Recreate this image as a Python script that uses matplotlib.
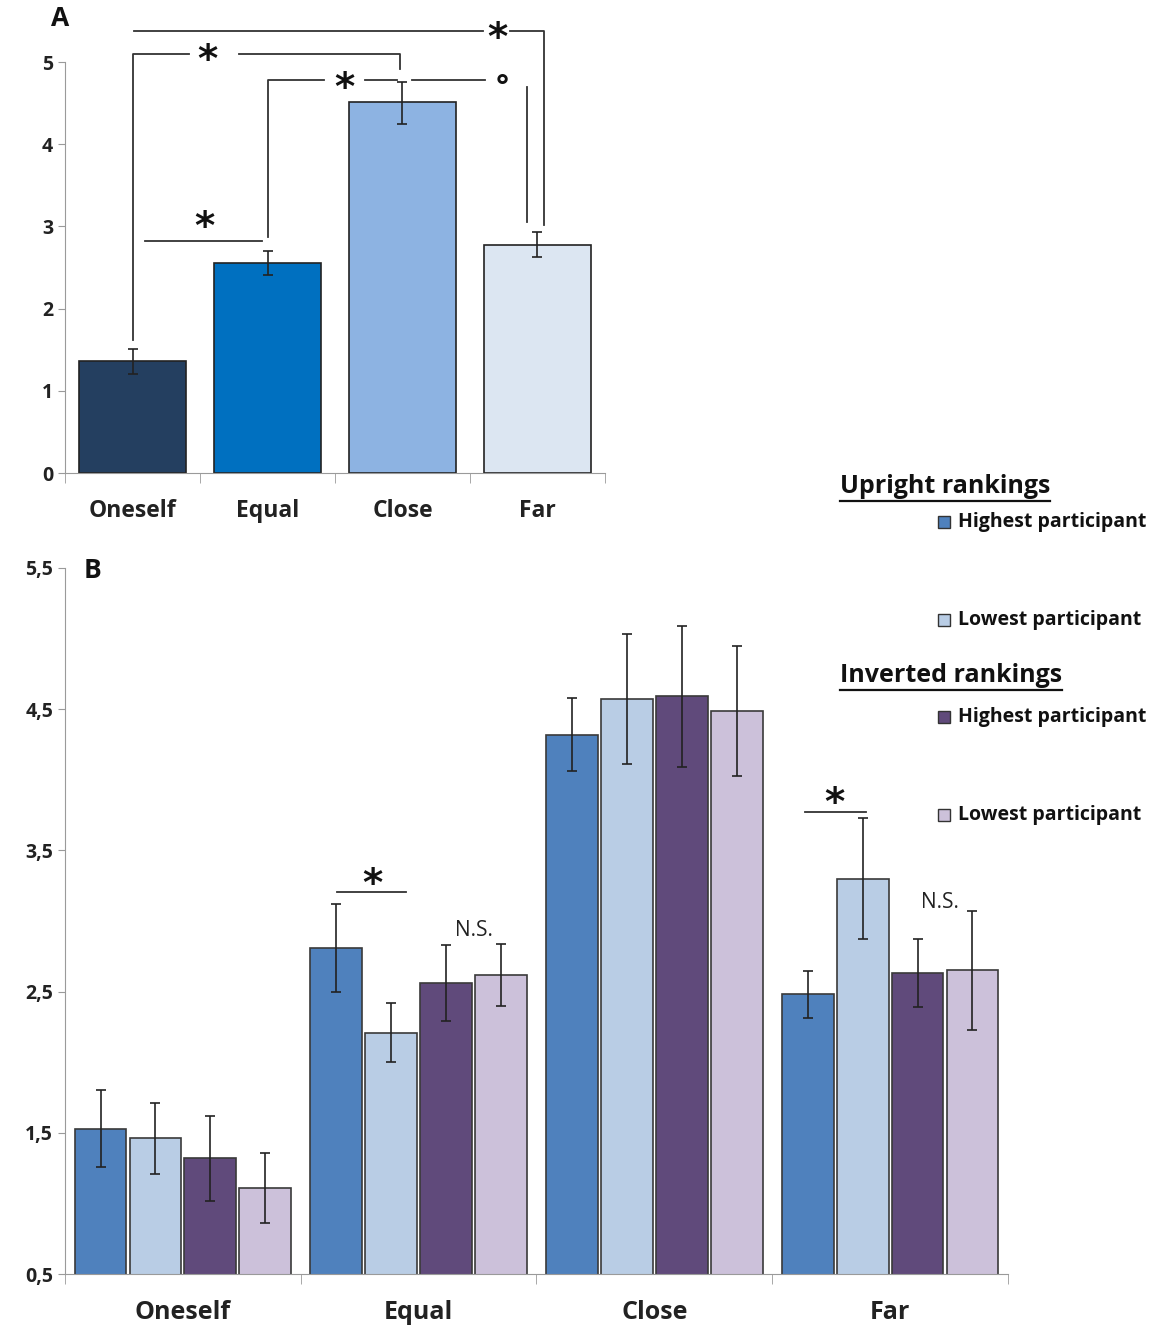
import numpy as np
import matplotlib.pyplot as plt
from matplotlib.patches import Rectangle

plt.rcParams['font.family'] = ['Open Sans', 'DejaVu Sans']

# Panel A data
cats = ['Oneself', 'Equal', 'Close', 'Far']
a_means = [1.36, 2.56, 4.51, 2.78]
a_err_lo = [0.15, 0.145, 0.26, 0.155]
a_err_hi = [0.15, 0.145, 0.25, 0.155]
a_colors = ['#243F60', '#0070C0', '#8DB3E2', '#DCE6F2']

# Panel B data (upright high, upright low, inverted high, inverted low)
series = ['Highest participant', 'Lowest participant', 'Highest participant', 'Lowest participant']
b_means = [
    [1.53, 2.81, 4.32, 2.48],
    [1.46, 2.21, 4.57, 3.30],
    [1.32, 2.56, 4.59, 2.63],
    [1.11, 2.62, 4.49, 2.65],
]
b_err = [
    [0.27, 0.31, 0.26, 0.165],
    [0.25, 0.21, 0.46, 0.43],
    [0.30, 0.27, 0.50, 0.24],
    [0.25, 0.22, 0.46, 0.42],
]
b_colors = ['#4F81BD', '#B9CDE5', '#604A7B', '#CCC1DA']

fig = plt.figure(figsize=(11.53, 13.31), dpi=100)
grey = '#9A9A9A'

def style_axes(ax):
    for s in ['top', 'right']:
        ax.spines[s].set_visible(False)
    ax.spines['left'].set_color(grey)
    ax.spines['bottom'].set_color(grey)
    ax.tick_params(axis='y', colors=grey, length=5, labelcolor='#222222', labelsize=14)
    for lab in ax.get_yticklabels():
        lab.set_fontweight('bold')

# ---------- Panel A ----------
axA = fig.add_axes([0.0564, 0.6446, 0.4683, 0.3088])
x = np.arange(len(cats))
axA.bar(x, a_means, width=0.79, color=a_colors, edgecolor='#222222', linewidth=1.2)
axA.errorbar(x, a_means, yerr=[a_err_lo, a_err_hi], fmt='none', ecolor='#222222',
             elinewidth=1.2, capsize=3.5, capthick=1.2)
axA.set_xlim(-0.5, 3.5)
axA.set_ylim(0, 5)
axA.set_yticks([0, 1, 2, 3, 4, 5])
style_axes(axA)
axA.set_xticks(x)
axA.set_xticklabels(cats, fontsize=16.5, fontweight='bold', color='#222222')
axA.tick_params(axis='x', length=0, pad=19)
axA.set_xticks([-0.5, 0.5, 1.5, 2.5, 3.5], minor=True)
axA.tick_params(axis='x', which='minor', length=7, color=grey)

lk = dict(color='#333333', lw=1.3, clip_on=False)
sk = dict(ha='center', va='center', fontsize=28, fontweight='bold', color='#111111',
          family='DejaVu Sans')
# Oneself - Far
axA.plot([0.01, 2.60], [5.38, 5.38], **lk)
axA.plot([2.80, 3.05, 3.05], [5.38, 5.38, 3.02], **lk)
axA.text(2.70, 5.28, '*', **sk)
# Oneself - Close
axA.plot([0, 0, 0.42], [1.62, 5.10, 5.10], **lk)
axA.plot([0.79, 1.98, 1.98], [5.10, 5.10, 4.92], **lk)
axA.text(0.555, 5.01, '*', **sk)
# Equal - Close
axA.plot([1.0, 1.0, 1.42], [2.87, 4.785, 4.785], **lk)
axA.plot([1.72, 1.96], [4.785, 4.785], **lk)
axA.text(1.57, 4.67, '*', **sk)
# Close - Far
axA.plot([2.07, 2.61], [4.785, 4.785], **lk)
axA.plot([2.92, 2.92], [4.70, 3.05], **lk)
axA.text(2.74, 4.69, '°', ha='center', va='center', fontsize=22, fontweight='bold', color='#111111')
# Oneself - Equal
axA.plot([0.09, 0.96], [2.82, 2.82], **lk)
axA.text(0.53, 2.975, '*', **sk)

fig.text(60 / 1153, 1 - 19 / 1331, 'A', fontsize=19, fontweight='bold', ha='center', va='center',
         color='#111111')

# ---------- Panel B ----------
axB = fig.add_axes([0.0564, 0.0428, 0.8178, 0.5305])
pitch = 0.233
offs = (np.arange(4) - 1.5) * pitch
for i in range(4):
    axB.bar(x + offs[i], b_means[i], width=0.22, bottom=0, color=b_colors[i],
            edgecolor='#3A3A3A', linewidth=1.2)
    axB.errorbar(x + offs[i], b_means[i], yerr=b_err[i], fmt='none', ecolor='#222222',
                 elinewidth=1.2, capsize=3.5, capthick=1.2)
axB.set_xlim(-0.5, 3.5)
axB.set_ylim(0.5, 5.5)
axB.set_yticks([0.5, 1.5, 2.5, 3.5, 4.5, 5.5])
axB.set_yticklabels(['0,5', '1,5', '2,5', '3,5', '4,5', '5,5'])
style_axes(axB)
axB.set_xticks(x)
axB.set_xticklabels(cats, fontsize=18, fontweight='bold', color='#222222')
axB.tick_params(axis='x', length=0, pad=19)
axB.set_xticks([-0.5, 0.5, 1.5, 2.5, 3.5], minor=True)
axB.tick_params(axis='x', which='minor', length=7, color=grey)

# significance in B
axB.plot([1 + offs[0] + 0.005, 1 + offs[1] + 0.065], [3.205, 3.205], **lk)
axB.text(1 + (offs[0] + offs[1]) / 2 + 0.035, 3.255, '*', **sk)
axB.text(1 + offs[2] + 0.12, 2.93, 'N.S.', ha='center', va='center', fontsize=15, color='#222222')
axB.plot([3 + offs[0] - 0.01, 3 + offs[1] + 0.015], [3.77, 3.77], **lk)
axB.text(3 + (offs[0] + offs[1]) / 2 - 0.005, 3.83, '*', **sk)
axB.text(3 + offs[2] + 0.095, 3.13, 'N.S.', ha='center', va='center', fontsize=15, color='#222222')

fig.text(92 / 1153, 1 - 571 / 1331, 'B', fontsize=19, fontweight='bold', ha='center', va='center',
         color='#111111')

# ---------- Legend ----------
def fy(p):
    return 1 - p / 1331

headers = [('Upright rankings', 487), ('Inverted rankings', 676)]
for txt, py in headers:
    t = fig.text(840 / 1153, fy(py), txt, fontsize=18, fontweight='bold', ha='left',
                 va='center', color='#111111')
    fig.canvas.draw()
    bb = t.get_window_extent().transformed(fig.transFigure.inverted())
    fig.add_artist(plt.Line2D([bb.x0, bb.x1], [bb.y0 - 0.001, bb.y0 - 0.001],
                              color='#111111', lw=1.6))

entry_y = [522, 620, 717, 815]
for i in range(4):
    py = entry_y[i]
    sq = 12
    fig.add_artist(Rectangle((938 / 1153, fy(py + sq / 2)), sq / 1153, sq / 1331,
                             facecolor=b_colors[i], edgecolor='#333333', lw=1.0))
    fig.text(958 / 1153, fy(py), series[i], fontsize=14, fontweight='bold', ha='left',
             va='center', color='#111111')

fig.savefig('out.png', dpi=100)
